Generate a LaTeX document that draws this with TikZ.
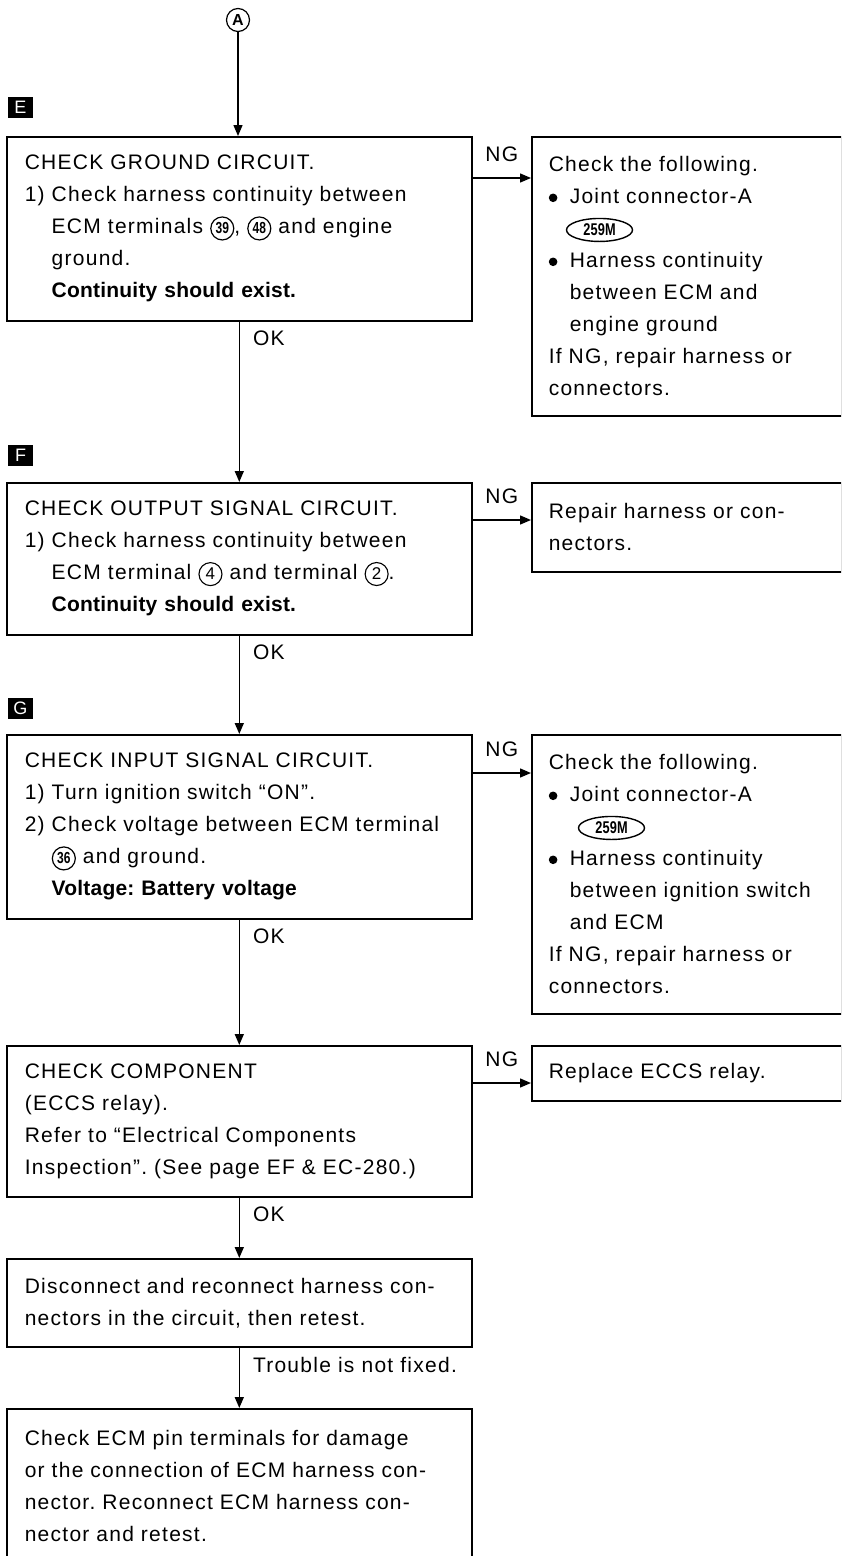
\documentclass[tikz,border=0pt]{standalone}
\usepackage{fontspec}
\setmainfont{Liberation Sans}[LetterSpace=6,BoldFeatures={LetterSpace=1}]
\usetikzlibrary{arrows.meta,shapes.geometric}

\tikzset{
  chk/.style={draw,line width=1.6pt,anchor=north west,align=left,
    text width=429pt,inner xsep=18pt,inner ysep=0pt,
    font=\fontsize{21}{32}\selectfont\frenchspacing},
  fix/.style={chk,text width=276pt,inner xsep=17pt},
  flow/.style={line width=1.4pt,-{Triangle[length=11pt,width=9pt]}},
  tag/.style={fill=black,text=white,minimum width=25pt,minimum height=21pt,
    inner sep=0pt,font=\fontsize{18}{18}\selectfont},
  ok/.style={anchor=north west,inner sep=0pt,xshift=13pt,yshift=-9pt,
    font=\fontsize{21}{32}\selectfont},
  ng/.style={midway,above=16pt,inner sep=0pt,font=\fontsize{21}{32}\selectfont},
  sym/.style={draw,anchor=center,text width=,align=center,minimum size=0pt,
    inner sep=0.6pt,fill=none}
}

% circled terminal numbers, connector code and bullet
\newcommand{\pin}[1]{\tikz[baseline=(p.base)]\node[sym,circle,line width=1.2pt,
  minimum size=23pt,font=\fontsize{16}{16}\bfseries\selectfont] (p) {\scalebox{0.75}[1]{#1}};}
\newcommand{\lpin}[1]{\tikz[baseline=(p.base)]\node[sym,circle,line width=1.1pt,
  minimum size=23pt,font=\fontsize{17}{17}\selectfont] (p) {#1};}
\newcommand{\conn}[1]{\tikz[baseline=(c.base)]\node[sym,ellipse,line width=1.4pt,
  inner xsep=4pt,inner ysep=1pt,minimum height=23pt,minimum width=66pt,
  font=\fontsize{17}{17}\bfseries\selectfont] (c) {\scalebox{0.75}[1]{#1}};}
\newcommand{\ind}{\hphantom{1) }}
\newcommand{\itm}{\makebox[21pt][l]{\tikz[baseline=-6pt]\fill (4.5pt,0) circle (4.3pt);}}
\newcommand{\bind}{\hspace*{21pt}}

\begin{document}
\begin{tikzpicture}[x=1pt,y=-1pt]
\useasboundingbox (0,0) rectangle (841,1556);
\clip (0,0) rectangle (841,1556);

% start mark
\node[draw,circle,line width=1.2pt,inner sep=0pt,minimum size=23pt,
  font=\fontsize{16}{16}\bfseries\selectfont] (a) at (238,20) {A};

% step letters
\node[tag] (tE) at (20.5,107.5) {E};
\node[tag] (tF) at (20.5,455) {F};
\node[tag] (tG) at (20.5,708) {G};

% left column
\node[chk,minimum height=184pt] (gnd) at (6,136) {CHECK GROUND CIRCUIT.\\
1) Check harness continuity between\\
\ind ECM terminals \pin{39}, \pin{48} and engine\\
\ind ground.\\
\ind\textbf{Continuity should exist.}};
\node[chk,minimum height=152pt] (out) at (6,482) {CHECK OUTPUT SIGNAL CIRCUIT.\\
1) Check harness continuity between\\
\ind ECM terminal \lpin{4} and terminal \lpin{2}.\\
\ind\textbf{Continuity should exist.}};
\node[chk,minimum height=184pt] (inp) at (6,734) {CHECK INPUT SIGNAL CIRCUIT.\\
1) Turn ignition switch ``ON''.\\
2) Check voltage between ECM terminal\\
\ind\pin{36} and ground.\\
\ind\textbf{Voltage: Battery voltage}};
\node[chk,minimum height=151pt] (comp) at (6,1045) {CHECK COMPONENT\\
(ECCS relay).\\
Refer to ``Electrical Components\\
Inspection''. (See page EF \& EC-280.)};
\node[chk,minimum height=88pt] (recon) at (6,1258) {Disconnect and reconnect harness con-\\
nectors in the circuit, then retest.};
\node[chk,minimum height=154pt] (pins) at (6,1408) {Check ECM pin terminals for damage\\
or the connection of ECM harness con-\\
nector. Reconnect ECM harness con-\\
nector and retest.};

% right column
\node[fix,minimum height=279pt] (r1) at (531,136) {Check the following.\\
\itm Joint connector-A\\
\hspace*{17pt}\conn{259M}\\
\itm Harness continuity\\
\bind between ECM and\\
\bind engine ground\\
If NG, repair harness or\\
connectors.};
\node[fix,minimum height=89pt] (r2) at (531,482) {Repair harness or con-\\
nectors.};
\node[fix,minimum height=279pt] (r3) at (531,734) {Check the following.\\
\itm Joint connector-A\\
\hspace*{29pt}\conn{259M}\\
\itm Harness continuity\\
\bind between ignition switch\\
\bind and ECM\\
If NG, repair harness or\\
connectors.};
\node[fix,minimum height=55pt] (r4) at (531,1045) {Replace ECCS relay.};

% OK path
\draw[flow] (a) -- (a |- gnd.north);
\draw[flow] (gnd.south) -- (out.north) node[ok,at start] {OK};
\draw[flow] (out.south) -- (inp.north) node[ok,at start] {OK};
\draw[flow] (inp.south) -- (comp.north) node[ok,at start] {OK};
\draw[flow] (comp.south) -- (recon.north) node[ok,at start] {OK};
\draw[flow] (recon.south) -- (pins.north) node[ok,at start] {Trouble is not fixed.};

% NG branches
\draw[flow] ([yshift=-42pt]gnd.north east) -- ([yshift=-42pt]r1.north west) node[ng] {NG};
\draw[flow] ([yshift=-38pt]out.north east) -- ([yshift=-38pt]r2.north west) node[ng] {NG};
\draw[flow] ([yshift=-39pt]inp.north east) -- ([yshift=-39pt]r3.north west) node[ng] {NG};
\draw[flow] ([yshift=-38pt]comp.north east) -- ([yshift=-38pt]r4.north west) node[ng] {NG};
\end{tikzpicture}
\end{document}
